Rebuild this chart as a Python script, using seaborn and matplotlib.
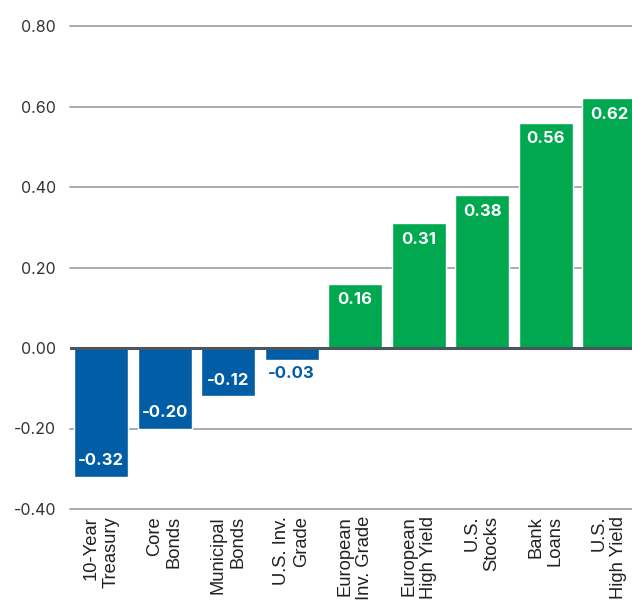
import matplotlib
matplotlib.use("Agg")
import matplotlib.pyplot as plt
import seaborn as sns
import pandas as pd

categories = ["10-Year\nTreasury", "Core\nBonds", "Municipal\nBonds", "U.S. Inv.\nGrade",
              "European\nInv. Grade", "European\nHigh Yield", "U.S.\nStocks", "Bank\nLoans",
              "U.S.\nHigh Yield"]
values = [-0.32, -0.20, -0.12, -0.03, 0.16, 0.31, 0.38, 0.56, 0.62]
yticks = [-0.40, -0.20, 0.00, 0.20, 0.40, 0.60, 0.80]

BLUE = "#005DA6"
GREEN = "#00A94F"

sns.set_theme(style="white")
plt.rcParams['font.family'] = ['Inter', 'DejaVu Sans']

df = pd.DataFrame({"cat": categories, "val": values})
colors = [BLUE if v < 0 else GREEN for v in values]

fig = plt.figure(figsize=(6.32, 6.05), dpi=100)
ax = fig.add_axes([70/632, 1 - 509/605, (632-70)/632, (509-26)/605])

sns.barplot(data=df, x="cat", y="val", hue="cat", palette=colors, legend=False,
            width=0.85, saturation=1, ax=ax, zorder=3)

ax.set_ylim(-0.40, 0.80)
ax.set_xlim(-0.49, 8.36)
ax.set_yticks(yticks)
ax.set_yticklabels([f"{t:.2f}" for t in yticks], fontsize=11.5, color="#333333")
for t in yticks:
    if t == 0:
        ax.axhline(t, color="#4a5560", lw=2.2, zorder=4)
    else:
        ax.axhline(t, color="#8e979e", lw=1.1, zorder=1, clip_on=False)

ax.set_xlabel("")
ax.set_ylabel("")
ax.tick_params(axis="y", length=0, pad=10)
ax.tick_params(axis="x", length=0, pad=5)
for lbl in ax.get_xticklabels():
    lbl.set_rotation(90)
    lbl.set_fontfamily(["Liberation Sans", "DejaVu Sans"])
    lbl.set_fontsize(13.2)
    lbl.set_color("#222222")
    lbl.set_ha("center")
    lbl.set_va("top")
    lbl.set_multialignment("right")
for s in ax.spines.values():
    s.set_visible(False)

for i, v in enumerate(values):
    if abs(v) < 0.05:
        ax.annotate(f"{v:.2f}", (i, v), xytext=(0, -10), textcoords="offset points",
                    ha="center", va="center", color=BLUE, fontsize=12, fontweight="bold", zorder=5)
    else:
        off = -11.5 if v > 0 else 11.5
        ax.annotate(f"{v:.2f}", (i, v), xytext=(0, off), textcoords="offset points",
                    ha="center", va="center", color="white", fontsize=12, fontweight="bold", zorder=5)

fig.savefig("out.png", dpi=100)
